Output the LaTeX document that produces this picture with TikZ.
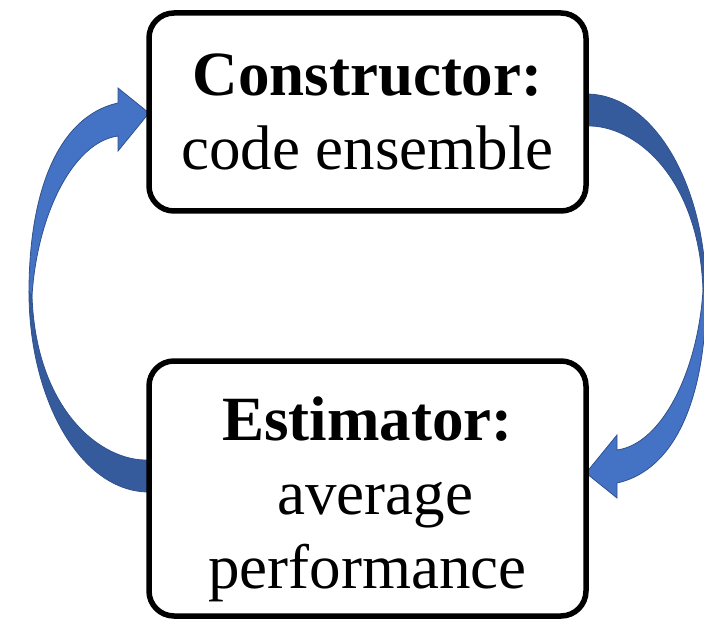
\documentclass[tikz,border=0pt]{standalone}
\usepackage{fontspec}
\setmainfont{Liberation Serif}
\usetikzlibrary{backgrounds}

\definecolor{arrowblue}{HTML}{4472C4}
\definecolor{arrowshade}{HTML}{365B9D}
\definecolor{arrowline}{HTML}{2F528F}

\begin{document}
\begin{tikzpicture}[
    x=1pt, y=-1pt,
    card/.style={draw, line width=5.5pt, rounded corners=25pt, fill=white,
      minimum width=437pt, outer sep=0pt, align=center,
      font=\fontsize{63}{74}\selectfont},
    cardtext/.style={align=center, inner sep=0pt,
      font=\fontsize{63}{74}\selectfont},
    loop arrow/.pic={
      % darker back half, tail up to the thin point
      \filldraw[arrowshade, draw=arrowline, line width=0.8pt]
        (0,167) .. controls (-48,169) and (-113,117) .. (-117,3)
        -- (-120,-1) .. controls (-120,107) and (-68,199) .. (0,199) -- cycle;
      % front half with the head
      \filldraw[arrowblue, draw=arrowline, line width=0.8pt]
        (-120,-1) .. controls (-120,-103) and (-90,-177) .. (-31,-190)
        -- (-31,-205) -- (0,-180) -- (-31,-142) -- (-31,-157)
        .. controls (-76,-151) and (-112,-78) .. (-117,3) -- cycle;
    }]
  \useasboundingbox (0,0) rectangle (704,620);

  \node[card, minimum height=198pt] (ctor) at (367.5,112)
    {\textbf{Constructor:}\\code ensemble};
  \node[card, minimum height=255pt] (est) at (367.5,488.5) {};
  \node[cardtext] (estText) at (367.5,499.5)
    {\textbf{Estimator:}\\\hspace*{.25em}average\\performance};

  \coordinate (hub) at (367.5,293);
  \begin{scope}[on background layer]
    \clip (0,0) rectangle (704,620);
    \pic at (ctor.west |- hub) {loop arrow};
    \pic[rotate=180] at (ctor.east |- hub) {loop arrow};
  \end{scope}
\end{tikzpicture}
\end{document}
